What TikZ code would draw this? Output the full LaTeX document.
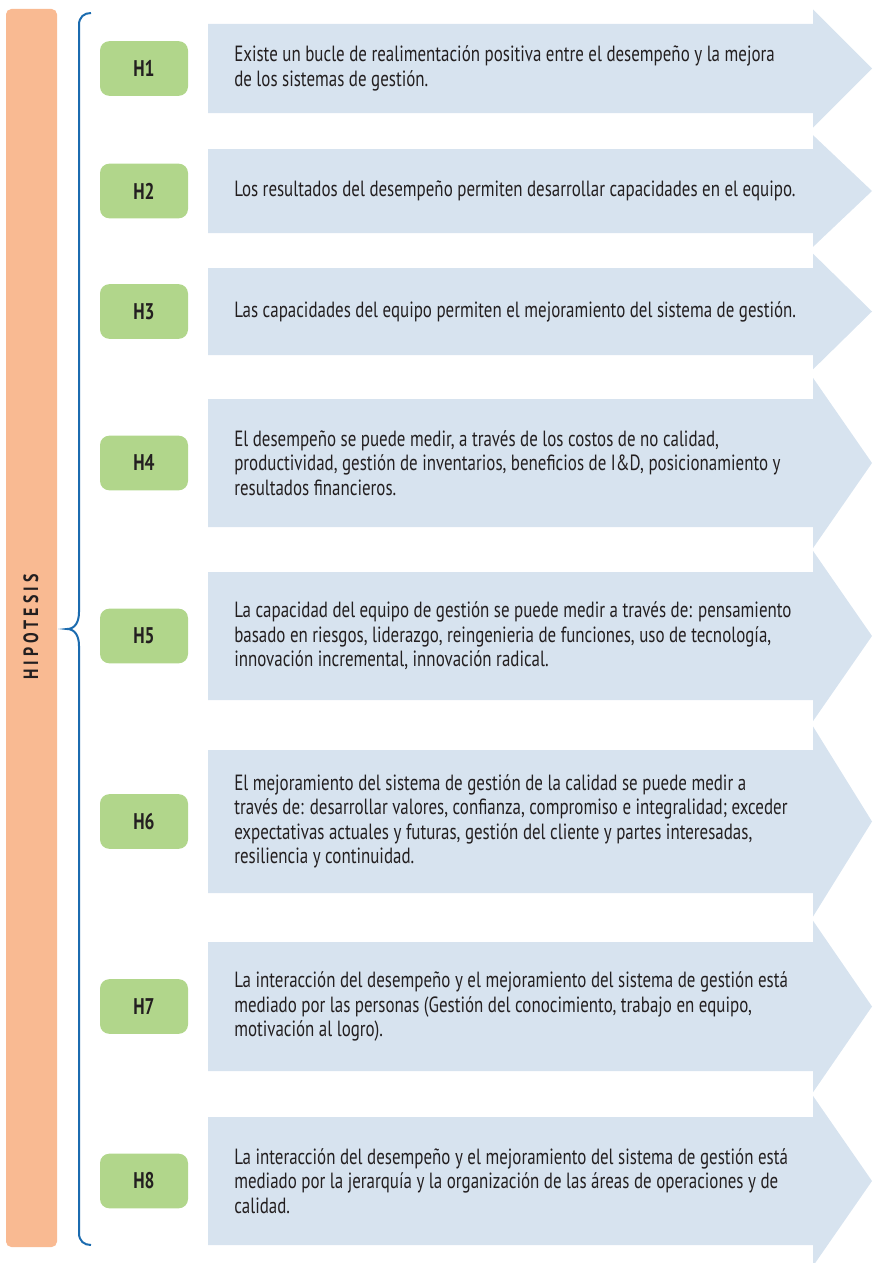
\documentclass[tikz,border=0pt]{standalone}
\usepackage{fontspec}
\setmainfont{PT Sans}[FakeStretch=0.77]
\definecolor{hipoorange}{HTML}{F9BA92}
\definecolor{hgreen}{HTML}{B1D68B}
\definecolor{arrowblue}{HTML}{D7E3EF}
\definecolor{braceblue}{HTML}{1B6BAF}
\definecolor{textgray}{HTML}{231F20}
\tikzset{
  hbox/.style={fill=hgreen, rounded corners=7pt, minimum width=66pt, minimum height=41pt,
    font=\fontsize{17}{19}\selectfont\bfseries, text=textgray},
  htext/.style={anchor=west, inner sep=0pt, align=left, text=textgray,
    font=\fontsize{16.5}{18.3}\selectfont},
  arrowbody/.style={fill=arrowblue}
}

\begin{document}
\begin{tikzpicture}[x=0.75pt, y=-0.75pt]
        \useasboundingbox (0,0) rectangle (872,1263);
        % left bar
        \fill[hipoorange, rounded corners=4pt] (6,9) rectangle (57,1247);
        \node[rotate=90, text=textgray, font=\fontsize{15.5}{17}\selectfont\bfseries\addfontfeatures{LetterSpace=20}] (hipo) at (31,627) {HIPOTESIS};
        % brace
        \draw[braceblue, line width=1.5pt]
            (91,13) .. controls (84,13) and (79,17) .. (79,25) -- (79,612)
            .. controls (79,622) and (75,629) .. (67,629)
            .. controls (75,629) and (79,636) .. (79,646) -- (79,1233)
            .. controls (79,1241) and (84,1245) .. (91,1245);
        \foreach \n/\ya/\yb/\txt in {
            1/24/113/{Existe un bucle de realimentación positiva entre el desempeño y la mejora\\de los sistemas de gestión.},
            2/149/233/{Los resultados del desempeño permiten desarrollar capacidades en el equipo.},
            3/268/355/{Las capacidades del equipo permiten el mejoramiento del sistema de gestión.},
            4/399/527/{El desempeño se puede medir, a través de los costos de no calidad,\\productividad, gestión de inventarios, beneficios de I\&D, posicionamiento y\\resultados financieros.},
            5/572/700/{La capacidad del equipo de gestión se puede medir a través de: pensamiento\\basado en riesgos, liderazgo, reingenieria de funciones, uso de tecnología,\\innovación incremental, innovación radical.},
            6/750/893/{El mejoramiento del sistema de gestión de la calidad se puede medir a\\través de: desarrollar valores, confianza, compromiso e integralidad; exceder\\expectativas actuales y futuras, gestión del cliente y partes interesadas,\\resiliencia y continuidad.},
            7/942/1071/{La interacción del desempeño y el mejoramiento del sistema de gestión está\\mediado por las personas (Gestión del conocimiento, trabajo en equipo,\\motivación al logro).},
            8/1117/1245/{La interacción del desempeño y el mejoramiento del sistema de gestión está\\mediado por la jerarquía y la organización de las áreas de operaciones y de\\calidad.}} {
            \pgfmathsetmacro{\ymid}{(\ya+\yb)/2}
            \pgfmathsetmacro{\ext}{0.165*(\yb-\ya)}
            \fill[arrowbody]
                (208,\ya) -- (813,\ya) -- (813,\ya-\ext) -- (872,\ymid) -- (813,\yb+\ext) -- (813,\yb) -- (208,\yb) -- cycle;
            \node[hbox] (h\n) at (144,\ymid) {H\n};
            \node[htext] (t\n) at (234,\ymid) {\txt};
        }
    \end{tikzpicture}
\end{document}
